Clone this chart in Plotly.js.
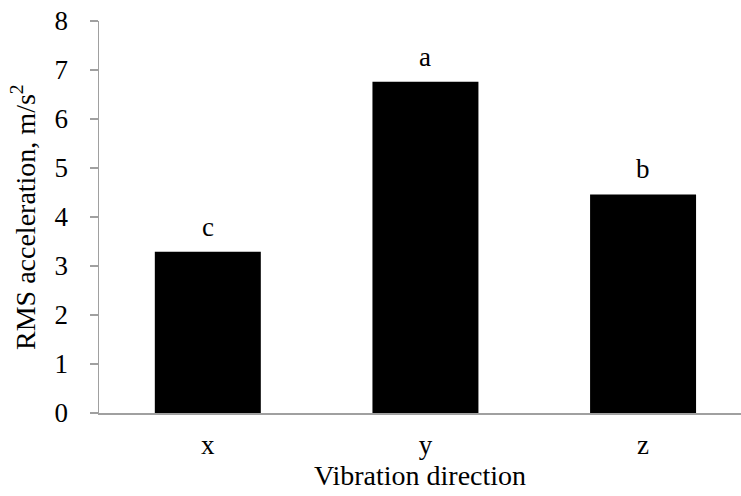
<!DOCTYPE html>
<html>
<head>
<meta charset="utf-8">
<script src="https://cdn.plot.ly/plotly-3.0.1.min.js"></script>
<style>html,body{margin:0;padding:0;background:#fff;}#chart{width:741px;height:496px;}</style>
</head>
<body>
<div id="chart"></div>
<script>
const categories = ['x', 'y', 'z'];
const rmsValues = [3.29, 6.76, 4.46];
const groupLetters = ['c', 'a', 'b'];
const yTicks = [0, 1, 2, 3, 4, 5, 6, 7, 8];
const yTitleText = 'RMS acceleration, m/s<sup>2</sup>';
const xTitleText = 'Vibration direction';

const font = {family: 'Liberation Serif, Times New Roman, serif', color: '#000'};
const fs = 27;

const trace = {
  type: 'bar',
  x: categories,
  y: rmsValues,
  width: 0.487,
  marker: {color: '#000000', line: {width: 0}},
  hoverinfo: 'skip'
};

const annotations = categories.map((c, i) => ({
  x: c, y: rmsValues[i], xref: 'x', yref: 'y',
  text: groupLetters[i], showarrow: false,
  yanchor: 'bottom', yshift: 8,
  font: Object.assign({}, font, {size: fs})
}));
annotations.push({
  x: 0, y: 0.5, xref: 'paper', yref: 'paper',
  xanchor: 'center', yanchor: 'middle', xshift: -76,
  textangle: -90, showarrow: false,
  text: yTitleText,
  font: Object.assign({}, font, {size: 28})
});

const layout = {
  width: 741, height: 496,
  margin: {l: 99, r: 0, t: 21, b: 83},
  paper_bgcolor: '#fff', plot_bgcolor: '#fff',
  showlegend: false,
  font: font,
  xaxis: {
    type: 'category',
    range: [-0.5, 2.45],
    showline: true, linecolor: '#a0a0a0', linewidth: 1.5,
    ticks: '', showgrid: false, zeroline: false,
    tickfont: Object.assign({}, font, {size: fs}),
    ticklabelstandoff: 7,
    title: {text: xTitleText, font: Object.assign({}, font, {size: 28}), standoff: 4}
  },
  yaxis: {
    range: [0, 8],
    tickvals: yTicks,
    ticktext: yTicks.map(String),
    showline: true, linecolor: '#a0a0a0', linewidth: 1.5,
    ticks: 'outside', ticklen: 8, tickcolor: '#a0a0a0', tickwidth: 1.5,
    showgrid: false, zeroline: false,
    tickfont: Object.assign({}, font, {size: fs}),
    ticklabelstandoff: 16
  },
  annotations: annotations
};

Plotly.newPlot('chart', [trace], layout, {displayModeBar: false, staticPlot: true});
</script>
</body>
</html>
